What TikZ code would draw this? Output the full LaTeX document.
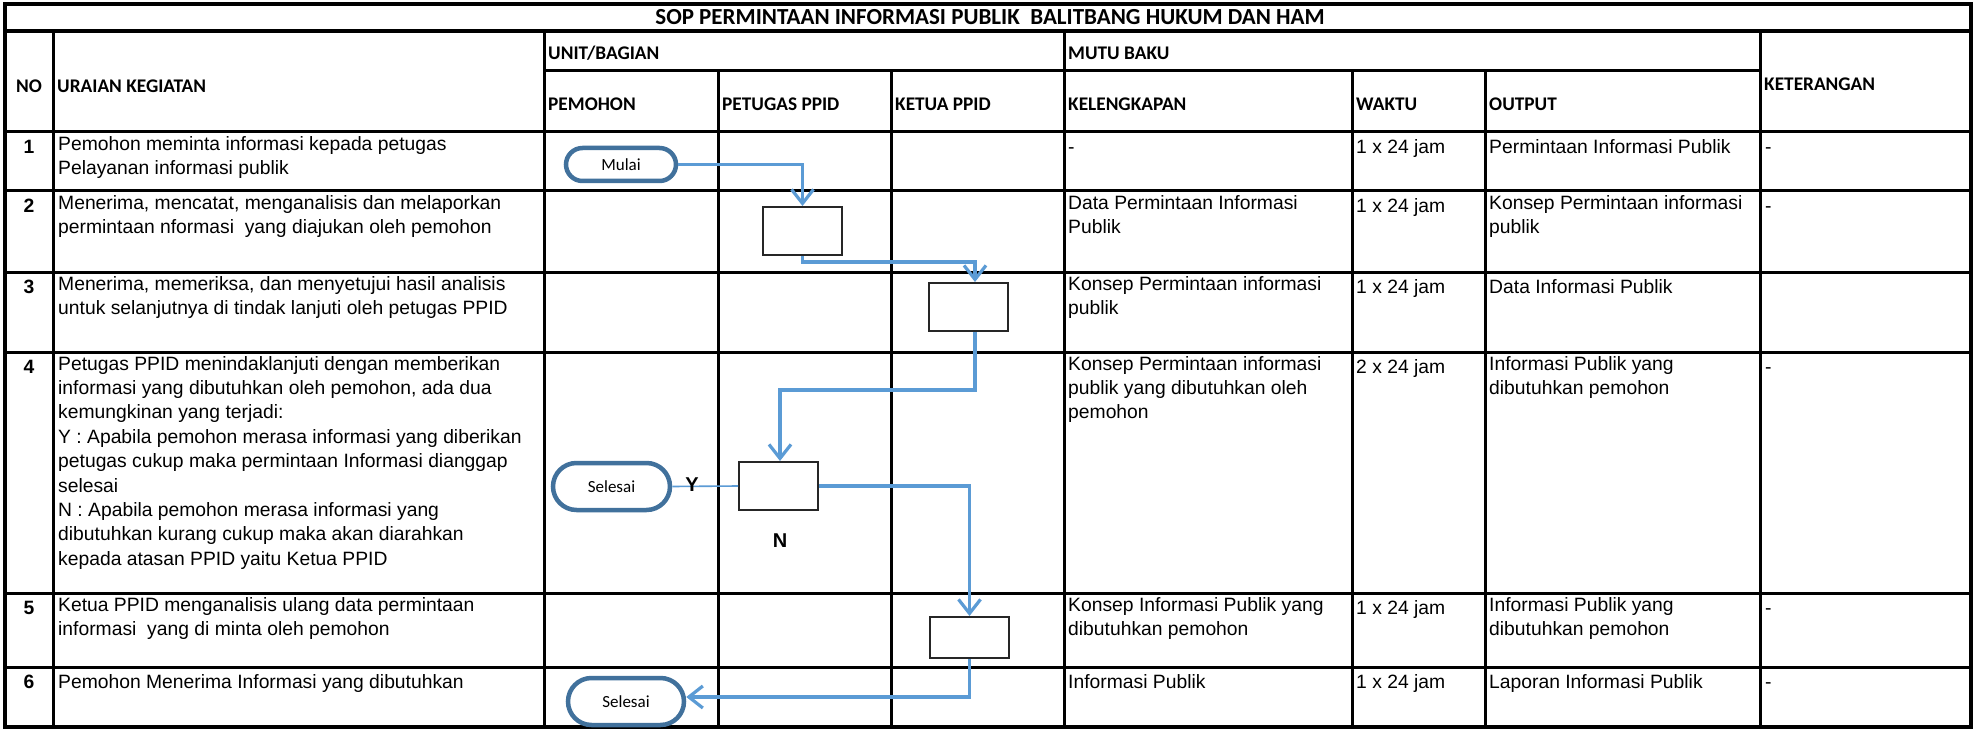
\documentclass[tikz,border=0pt]{standalone}
\usepackage{fontspec}
\setmainfont{Liberation Sans}
\newfontfamily\calibri{Carlito}
\usetikzlibrary{arrows.meta,shapes.misc}
\definecolor{flowblue}{HTML}{5B9BD5}
\definecolor{ovalblue}{HTML}{41719C}
\tikzset{
  grid/.style={line width=3pt, line cap=rect, draw=black},
  outer/.style={line width=3.6pt, line cap=rect, draw=black},
  body/.style={anchor=north west, inner sep=0pt, align=left,
    font=\fontsize{19.3}{24.4}\selectfont, execute at begin node=\strut},
  num/.style={anchor=north, inner sep=0pt,
    font=\fontsize{19.3}{24.4}\selectfont\bfseries, execute at begin node=\strut},
  head/.style={anchor=west, inner sep=0pt,
    font=\calibri\bfseries\fontsize{19.3}{23}\selectfont},
  titletext/.style={anchor=center, inner sep=0pt,
    font=\calibri\bfseries\fontsize{23}{26}\selectfont},
  stepbox/.style={draw=black!85, line width=2pt, fill=white,
    minimum width=79pt, minimum height=48pt, inner sep=0pt},
  terminal/.style={rounded rectangle, draw=ovalblue, line width=4.5pt, fill=white,
    inner sep=0pt, font=\calibri\fontsize{17}{20}\selectfont},
  flow/.style={draw=flowblue, line width=3.5pt,
    -{Straight Barb[length=14pt,width=22pt,line width=3.2pt]}},
  yline/.style={draw=flowblue, line width=1.6pt},
  lbl/.style={inner sep=0pt, font=\fontsize{20}{24}\selectfont\bfseries},
}
\begin{document}
\begin{tikzpicture}[x=1pt,y=-1pt]
\useasboundingbox (0,0) rectangle (1980,730);
\fill[white] (0,0) rectangle (1980,730);

% ---- grid ----
\foreach \yy in {132,191,272,352,593,667} \draw[grid] (5,\yy) -- (1971,\yy);
\draw[grid] (544,71) -- (1760,71);
\foreach \xx in {53,544,1064,1760} \draw[grid] (\xx,31) -- (\xx,727);
\foreach \xx in {718,891,1352,1485} \draw[grid] (\xx,71) -- (\xx,727);
\draw[outer] (5,31) -- (1971,31);
\draw[outer] (5,4) rectangle (1971,727);

% ---- title and headers ----
\node[titletext] (title) at (990,17.5) {SOP PERMINTAAN INFORMASI PUBLIK\ \ BALITBANG HUKUM DAN HAM};
\node[head, anchor=center] (hno) at (29,86) {NO};
\node[head] (huraian) at (57,86) {URAIAN KEGIATAN};
\node[head] (hunit) at (548,53) {UNIT/BAGIAN};
\node[head] (hmutu) at (1068,53) {MUTU BAKU};
\node[head] (hpem) at (548,104) {PEMOHON};
\node[head] (hpet) at (722,104) {PETUGAS PPID};
\node[head] (hket) at (895,104) {KETUA PPID};
\node[head] (hkel) at (1068,104) {KELENGKAPAN};
\node[head] (hwak) at (1356,104) {WAKTU};
\node[head] (hout) at (1489,104) {OUTPUT};
\node[head] (hketr) at (1764,84) {KETERANGAN};

% ---- row 1 ----
\node[num] (n1) at (29,136) {1};
\node[body] (u1) at (58,136) {Pemohon meminta informasi kepada petugas\\Pelayanan informasi publik};
\node[body] (k1) at (1068,136) {-};
\node[body] (w1) at (1356,136) {1 x 24 jam};
\node[body] (o1) at (1489,136) {Permintaan Informasi Publik};
\node[body] (e1) at (1765,136) {-};

% ---- row 2 ----
\node[num] (n2) at (29,195) {2};
\node[body] (u2) at (58,195) {Menerima, mencatat, menganalisis dan melaporkan\\permintaan nformasi\ \ yang diajukan oleh pemohon};
\node[body] (k2) at (1068,195) {Data Permintaan Informasi\\Publik};
\node[body] (w2) at (1356,195) {1 x 24 jam};
\node[body] (o2) at (1489,195) {Konsep Permintaan informasi\\publik};
\node[body] (e2) at (1765,195) {-};

% ---- row 3 ----
\node[num] (n3) at (29,276) {3};
\node[body] (u3) at (58,276) {Menerima, memeriksa, dan menyetujui hasil analisis\\untuk selanjutnya di tindak lanjuti oleh petugas PPID};
\node[body] (k3) at (1068,276) {Konsep Permintaan informasi\\publik};
\node[body] (w3) at (1356,276) {1 x 24 jam};
\node[body] (o3) at (1489,276) {Data Informasi Publik};

% ---- row 4 ----
\node[num] (n4) at (29,356) {4};
\node[body] (u4) at (58,356) {Petugas PPID menindaklanjuti dengan memberikan\\informasi yang dibutuhkan oleh pemohon, ada dua\\kemungkinan yang terjadi:\\Y : Apabila pemohon merasa informasi yang diberikan\\petugas cukup maka permintaan Informasi dianggap\\selesai\\N : Apabila pemohon merasa informasi yang\\dibutuhkan kurang cukup maka akan diarahkan\\kepada atasan PPID yaitu Ketua PPID};
\node[body] (k4) at (1068,356) {Konsep Permintaan informasi\\publik yang dibutuhkan oleh\\pemohon};
\node[body] (w4) at (1356,356) {2 x 24 jam};
\node[body] (o4) at (1489,356) {Informasi Publik yang\\dibutuhkan pemohon};
\node[body] (e4) at (1765,356) {-};

% ---- row 5 ----
\node[num] (n5) at (29,597) {5};
\node[body] (u5) at (58,597) {Ketua PPID menganalisis ulang data permintaan\\informasi\ \ yang di minta oleh pemohon};
\node[body] (k5) at (1068,597) {Konsep Informasi Publik yang\\dibutuhkan pemohon};
\node[body] (w5) at (1356,597) {1 x 24 jam};
\node[body] (o5) at (1489,597) {Informasi Publik yang\\dibutuhkan pemohon};
\node[body] (e5) at (1765,597) {-};

% ---- row 6 ----
\node[num] (n6) at (29,671) {6};
\node[body] (u6) at (58,671) {Pemohon Menerima Informasi yang dibutuhkan};
\node[body] (k6) at (1068,671) {Informasi Publik};
\node[body] (w6) at (1356,671) {1 x 24 jam};
\node[body] (o6) at (1489,671) {Laporan Informasi Publik};
\node[body] (e6) at (1765,671) {-};

% ---- flowchart ----
\node[terminal, minimum width=110pt, minimum height=33pt] (mulai) at (621,164.5) {Mulai};
\node[stepbox] (b2) at (802.5,231) {};
\node[stepbox] (b3) at (968,307) {};
\node[stepbox] (b4) at (778.5,486) {};
\node[stepbox, minimum height=41pt] (b5) at (969.5,637.5) {};
\node[terminal, minimum width=117pt, minimum height=47pt] (sel1) at (611.5,486.5) {Selesai};
\node[terminal, minimum width=116pt, minimum height=47pt] (sel2) at (626,701.5) {Selesai};

\coordinate (j2) at (975,262);
\coordinate (j3) at (780,390);

\draw[flow] (mulai.east) -| (b2.north);
\draw[flow] (b2.south) |- (j2) -- ([xshift=7pt]b3.north);
\draw[flow] ([xshift=7pt]b3.south) |- (j3) -- ([xshift=1.5pt]b4.north);
\draw[yline] (b4.west) -- (sel1.east);
\draw[flow] (b4.east) -| (b5.north);
\draw[flow] (b5.south) |- ([yshift=4.5pt]sel2.east);

\node[lbl] (ylab) at (692,485) {Y};
\node[lbl] (nlab) at (780,541) {N};
\end{tikzpicture}
\end{document}
